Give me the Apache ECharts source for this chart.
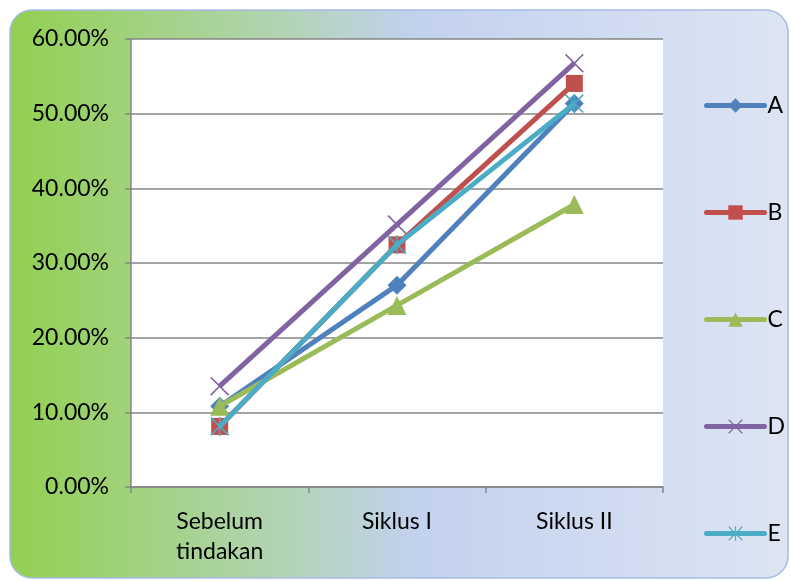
<!DOCTYPE html>
<html>
<head>
<meta charset="utf-8">
<script src="https://cdn.jsdelivr.net/npm/echarts@6/dist/echarts.min.js"></script>
<style>html,body{margin:0;padding:0;background:#fff;}#c{width:791px;height:581px;}</style>
</head>
<body>
<div id="c"></div>
<script>
var categories = ['Sebelum\ntindakan', 'Siklus I', 'Siklus II'];
var seriesNames = ['A', 'B', 'C', 'D', 'E'];
var valuesA = [10.81, 27.03, 51.35];
var valuesB = [8.11, 32.43, 54.05];
var valuesC = [10.81, 24.32, 37.84];
var valuesD = [13.51, 35.14, 56.76];
var valuesE = [8.11, 32.43, 51.35];
var yTicks = [0, 10, 20, 30, 40, 50, 60];

var colors = ['#4F81BD', '#C0504D', '#9BBB59', '#8064A2', '#4BACC6'];
var xPath = 'path://M0,1.2 L1.2,0 L10,8.8 L18.8,0 L20,1.2 L11.2,10 L20,18.8 L18.8,20 L10,11.2 L1.2,20 L0,18.8 L8.8,10 Z';
var starPath = 'path://M0,1.2 L1.2,0 L10,8.8 L18.8,0 L20,1.2 L11.2,10 L20,18.8 L18.8,20 L10,11.2 L1.2,20 L0,18.8 L8.8,10 Z M9.2,0 L10.8,0 L10.8,20 L9.2,20 Z';
var symbols = ['diamond', 'rect', 'triangle', xPath, starPath];
var sizes = [19, 17, 19, 19, 19];
var allValues = [valuesA, valuesB, valuesC, valuesD, valuesE];
var font = 'Lato, "Open Sans", sans-serif';

var chart = echarts.init(document.getElementById('c'), null, {renderer: 'canvas'});
var series = seriesNames.map(function (n, i) {
  return {
    name: n,
    type: 'line',
    data: allValues[i],
    symbol: symbols[i],
    symbolSize: sizes[i],
    showSymbol: true,
    lineStyle: {color: colors[i], width: 5},
    itemStyle: {color: colors[i], borderWidth: 0},
    emphasis: {disabled: true},
    z: 3 + i
  };
});

chart.setOption({
  animation: false,
  graphic: [{
    type: 'rect',
    z: -10,
    silent: true,
    shape: {x: 10, y: 10, width: 778, height: 568, r: 22},
    style: {
      fill: new echarts.graphic.LinearGradient(0, 0, 1, 0, [
        {offset: 0, color: '#92D050'},
        {offset: 0.35, color: '#B2D4B4'},
        {offset: 0.52, color: '#C2D1EE'},
        {offset: 1, color: '#DDE5F3'}
      ]),
      stroke: '#A6BCE3',
      lineWidth: 1.5
    }
  }],
  grid: {left: 131, right: 128, top: 39, bottom: 94, show: true, backgroundColor: '#ffffff', borderWidth: 0},
  legend: {
    orient: 'vertical',
    left: 704,
    top: 94,
    padding: 0,
    itemWidth: 58,
    itemHeight: 18,
    itemGap: 84,
    data: seriesNames.map(function (n, i) {
      return {name: n, lineStyle: {width: 5, color: colors[i], cap: 'round'}};
    }),
    textStyle: {fontFamily: font, fontSize: 23, color: '#000', lineHeight: 18, padding: [0, 0, 0, -2]},
    selectedMode: false
  },
  xAxis: {
    type: 'category',
    data: categories,
    boundaryGap: true,
    axisLine: {lineStyle: {color: '#868686', width: 1.5}},
    axisTick: {show: true, length: 6, lineStyle: {color: '#868686', width: 1.5}},
    axisLabel: {fontFamily: font, fontSize: 23, color: '#000', margin: 20, lineHeight: 30},
    splitLine: {show: false}
  },
  yAxis: {
    type: 'value',
    min: 0,
    max: 60,
    interval: 10,
    axisLine: {show: true, lineStyle: {color: '#868686', width: 1.5}},
    axisTick: {show: true, length: 6, lineStyle: {color: '#868686', width: 1.5}},
    axisLabel: {
      fontFamily: font, fontSize: 23, color: '#000', margin: 22,
      formatter: function (v) { return yTicks.indexOf(v) >= 0 ? v.toFixed(2) + '%' : ''; }
    },
    splitLine: {show: true, lineStyle: {color: '#868686', width: 1.5}}
  },
  series: series
});
</script>
</body>
</html>
